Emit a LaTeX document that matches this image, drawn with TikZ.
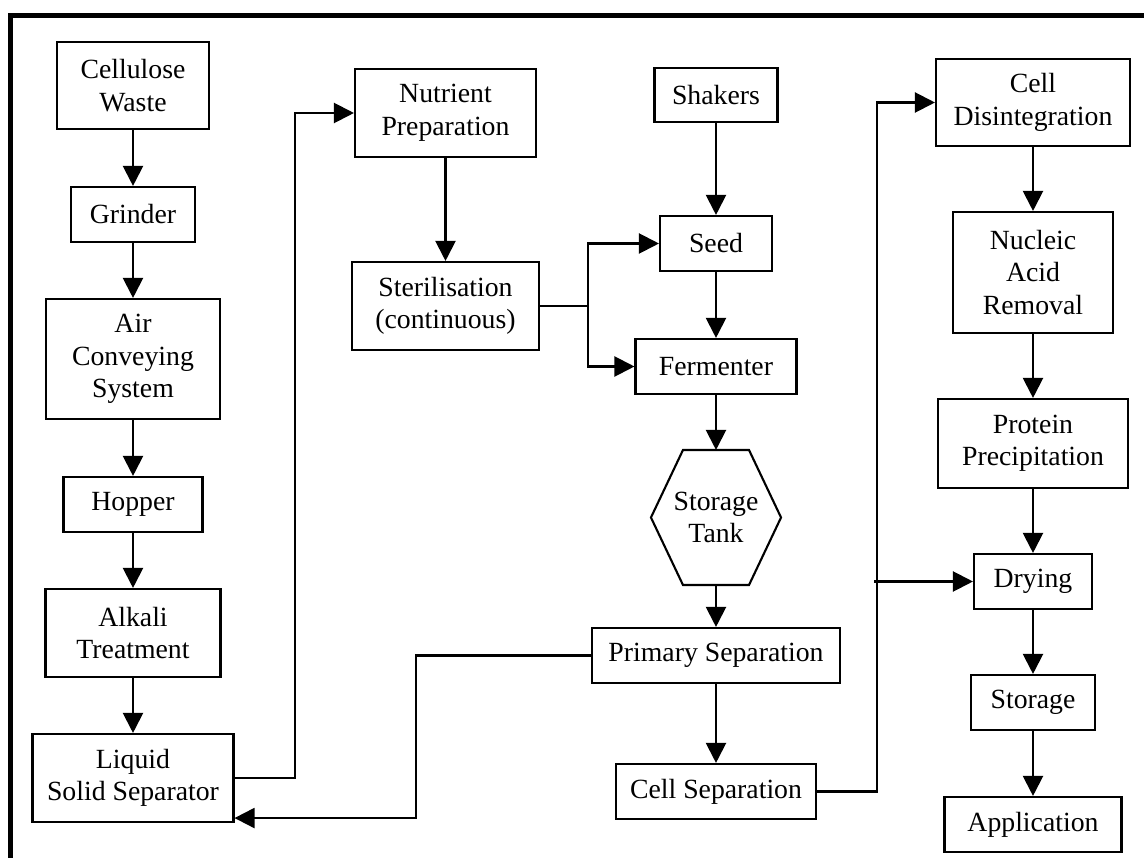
\documentclass[tikz,border=0pt]{standalone}
\usepackage{fontspec}
\setmainfont{Liberation Serif}
\usetikzlibrary{arrows.meta}

\begin{document}
\begin{tikzpicture}[
  x=0.02cm, y=-0.02cm,
  box/.style={
    draw,
    rectangle,
    line width=1.2pt,
    align=center,
    inner sep=0pt,
    font=\fontsize{15.8}{18.5}\selectfont
  },
  tankbox/.style={box, draw=none},
  arrow/.style={
    -{Triangle[length=0.4cm, width=0.4cm]},
    line width=1.2pt
  },
  link/.style={line width=1.2pt}
]
\useasboundingbox (0,0) rectangle (1144,858);

% Frame
\draw[line width=0.1cm] (10.5,858) -- (10.5,15.5) -- (1144,15.5);

% Nodes, left column
\node[box, minimum width=3.04cm, minimum height=1.74cm] (cw)      at (133,85.5)  {Cellulose\\Waste};
\node[box, minimum width=2.48cm, minimum height=1.10cm] (grinder) at (133,214.5) {Grinder};
\node[box, minimum width=3.48cm, minimum height=2.40cm] (acs)     at (133,359)   {Air\\Conveying\\System};
\node[box, minimum width=2.78cm, minimum height=1.10cm] (hopper)  at (133,504.5) {Hopper};
\node[box, minimum width=3.50cm, minimum height=1.76cm] (alkali)  at (133,633)   {Alkali\\Treatment};
\node[box, minimum width=4.02cm, minimum height=1.76cm] (lss)     at (133,778)   {Liquid\\Solid Separator};

% Nodes, second column
\node[box, minimum width=3.62cm, minimum height=1.76cm] (np)      at (445.5,113) {Nutrient\\Preparation};
\node[box, minimum width=3.74cm, minimum height=1.76cm] (steril)  at (445.5,306) {Sterilisation\\(continuous)};

% Nodes, middle column
\node[box, minimum width=2.46cm, minimum height=1.08cm] (shakers) at (716,95)    {Shakers};
\node[box, minimum width=2.24cm, minimum height=1.10cm] (seed)    at (716,243.5) {Seed};
\node[box, minimum width=3.22cm, minimum height=1.10cm] (ferm)    at (716,366.5) {Fermenter};
\node[tankbox, minimum width=2.56cm, minimum height=2.66cm] (tank) at (716,517.5) {Storage\\Tank};
\node[box, minimum width=4.96cm, minimum height=1.10cm] (prim)    at (716,655.5) {Primary Separation};
\node[box, minimum width=4.00cm, minimum height=1.10cm] (cellsep) at (716,791.5) {Cell Separation};

% Nodes, right column
\node[box, minimum width=3.88cm, minimum height=1.74cm] (celldis) at (1033,102.5) {Cell\\Disintegration};
\node[box, minimum width=3.20cm, minimum height=2.42cm] (nar)     at (1033,272.5) {Nucleic\\Acid\\Removal};
\node[box, minimum width=3.80cm, minimum height=1.78cm] (protein) at (1033,443.5) {Protein\\Precipitation};
\node[box, minimum width=2.36cm, minimum height=1.10cm] (drying)  at (1033,581.5) {Drying};
\node[box, minimum width=2.48cm, minimum height=1.10cm] (storage) at (1033,702.5) {Storage};
\node[box, minimum width=3.54cm, minimum height=1.10cm] (app)     at (1033,824.5) {Application};

% Hexagon outline of the storage tank
\draw[link] ([xshift=-0.66cm]tank.north) -- ([xshift=0.66cm]tank.north)
  -- (tank.east) -- ([xshift=0.66cm]tank.south)
  -- ([xshift=-0.66cm]tank.south) -- (tank.west) -- cycle;

% Straight arrows
\draw[arrow] (cw)      -- (grinder);
\draw[arrow] (grinder) -- (acs);
\draw[arrow] (acs)     -- (hopper);
\draw[arrow] (hopper)  -- (alkali);
\draw[arrow] (alkali)  -- (lss);
\draw[arrow] (np)      -- (steril);
\draw[arrow] (shakers) -- (seed);
\draw[arrow] (seed)    -- (ferm);
\draw[arrow] (ferm)    -- (tank.north);
\draw[arrow] (tank.south) -- (prim);
\draw[arrow] (prim)    -- (cellsep);
\draw[arrow] (celldis) -- (nar);
\draw[arrow] (nar)     -- (protein);
\draw[arrow] (protein) -- (drying);
\draw[arrow] (drying)  -- (storage);
\draw[arrow] (storage) -- (app);

% Elbow connectors
\coordinate (split) at (588,306);
\coordinate (dryin) at (874,581.5);
\draw[arrow] (lss.east) -- (295,778) |- (np.west);
\draw[link]  (steril.east) -- (split);
\draw[arrow] (split) |- (seed.west);
\draw[arrow] (split) |- (ferm.west);
\draw[arrow] (prim.west) -- (416,655.5) |- ([yshift=0.1cm]lss.south east);
\draw[arrow] (cellsep.east) -- (877,791.5) |- (celldis.west);
\draw[arrow] (dryin) -- (drying.west);

\end{tikzpicture}
\end{document}
